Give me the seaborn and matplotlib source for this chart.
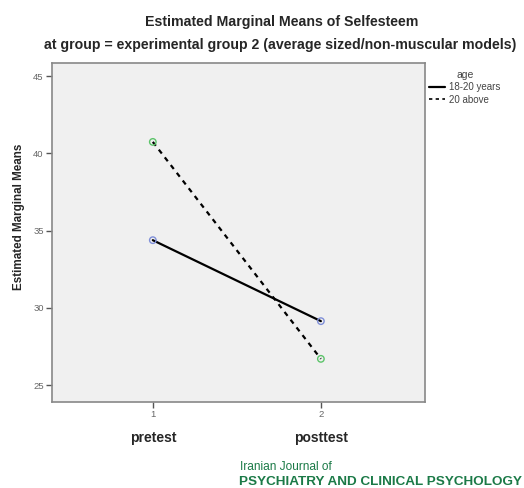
import matplotlib
matplotlib.use("Agg")
import matplotlib.pyplot as plt
import seaborn as sns
import pandas as pd
from matplotlib.lines import Line2D

# Estimated marginal means of self-esteem by age group
times = [1, 2]
time_names = ["pretest", "posttest"]
age_groups = ["18-20 years", "20 above"]
means_18_20 = [34.38, 29.14]
means_20_above = [40.74, 26.70]
y_ticks = [25, 30, 35, 40, 45]

df = pd.DataFrame({
    "time": times * 2,
    "mean": means_18_20 + means_20_above,
    "age": [age_groups[0]] * 2 + [age_groups[1]] * 2,
})

sns.set_style("white")
plt.rcParams["font.family"] = ["Liberation Sans", "DejaVu Sans"]

fig = plt.figure(figsize=(5.24, 4.88), dpi=100)
ax = fig.add_axes([0.0992, 0.176, 0.712, 0.695])
ax.set_facecolor("#f0f0f0")

sns.lineplot(data=df, x="time", y="mean", style="age", hue="age",
             palette={age_groups[0]: "black", age_groups[1]: "black"},
             dashes={age_groups[0]: "", age_groups[1]: (2.2, 2.2)},
             linewidth=1.6, legend=False, ax=ax, zorder=2)
sns.scatterplot(data=df, x="time", y="mean", hue="age",
                palette={age_groups[0]: "#7f8fd8", age_groups[1]: "#5cc46a"},
                s=22, linewidth=1.0, legend=False, ax=ax, zorder=3)
# open circle markers: outline in the group colour, no fill
for c in ax.collections:
    fc = c.get_facecolors()
    c.set_edgecolors(fc)
    c.set_facecolor("none")

ax.set_xlim(0.4, 2.62)
ax.set_ylim(23.9, 45.85)
ax.set_xticks(times)
ax.set_xticklabels([str(t) for t in times])
ax.set_yticks(y_ticks)
ax.set_yticklabels([str(t) for t in y_ticks])
ax.tick_params(axis="both", direction="out", length=4, width=1, color="#555555",
               labelsize=6.8, labelcolor="#666666", pad=2, left=True, bottom=True)
for s in ax.spines.values():
    s.set_color("#888888")
    s.set_linewidth(1.2)

ax.set_xlabel("")
ax.set_ylabel("Estimated Marginal Means", fontsize=8.4, fontweight="bold")
ax.yaxis.set_label_coords(-0.073, 0.545)
for t, name in zip(times, time_names):
    ax.annotate(name, xy=(t, 0), xycoords=("data", "axes fraction"),
                xytext=(0, -25.5), textcoords="offset points",
                ha="center", va="center", fontsize=10, fontweight="bold")

fig.text(0.538, 0.955, "Estimated Marginal Means of Selfesteem",
         ha="center", va="center", fontsize=10.2, fontweight="bold")
fig.text(0.535, 0.908, "at group = experimental group 2 (average sized/non-muscular models)",
         ha="center", va="center", fontsize=10.2, fontweight="bold")

# Legend
handles = [Line2D([], [], color="black", lw=1.6),
           Line2D([], [], color="black", lw=1.2, dashes=(2, 2))]
leg = fig.legend(handles, age_groups, title="age", loc="upper left",
                 bbox_to_anchor=(0.812, 0.865), frameon=False, fontsize=7,
                 title_fontsize=7.5, handlelength=1.6, handletextpad=0.4,
                 labelspacing=0.25, borderaxespad=0)
for t in leg.get_texts():
    t.set_color("#444444")
leg.get_title().set_color("#444444")

fig.text(0.458, 0.043, "Iranian Journal of", ha="left", va="center",
         fontsize=8.6, color="#1b7a47")
fig.text(0.457, 0.012, "PSYCHIATRY AND CLINICAL PSYCHOLOGY", ha="left", va="center",
         fontsize=9.7, color="#1b7a47", fontweight="bold")

fig.savefig("out.png", dpi=100)
